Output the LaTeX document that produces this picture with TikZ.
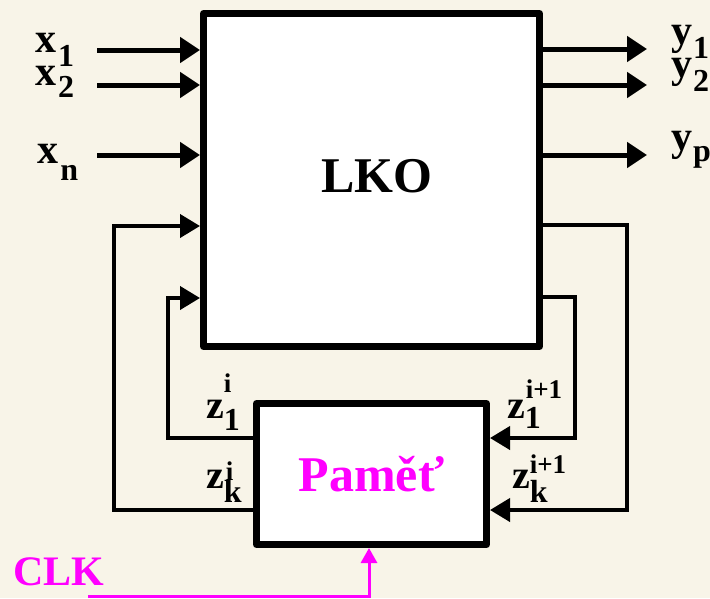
\documentclass[tikz,border=0pt]{standalone}
\usepackage{fontspec}
\setmainfont{Liberation Serif}
\usetikzlibrary{arrows.meta,calc}
\definecolor{bg}{RGB}{248,244,232}
\definecolor{mag}{RGB}{255,0,255}
\newcommand{\fsz}[1]{\fontsize{#1}{#1}\selectfont}
\begin{document}
\begin{tikzpicture}[x=1pt,y=-1pt,
  lab/.style={anchor=base west,inner sep=0pt,outer sep=0pt,font=\bfseries},
  blk/.style={draw=black,fill=white,line width=7pt,line join=round,inner sep=0pt},
  inarr/.style={line width=5pt,-{Triangle[length=20pt,width=25pt]}},
  fb/.style={line width=4pt,line join=miter},
  fbarr/.style={fb,-{Triangle[length=20pt,width=23pt]}},
  clk/.style={draw=mag,line width=3pt,-{Triangle[length=15pt,width=16pt]}}]
\fill[bg] (0,0) rectangle (710,598);
\useasboundingbox (0,0) rectangle (710,598);
% blocks
\node[blk,minimum width=336pt,minimum height=333pt] (lko) at (371.5,180) {};
\node[font=\bfseries\fsz{50},inner sep=0pt] (lkot) at (377,176.5) {LKO};
\node[blk,minimum width=230pt,minimum height=141pt,text=mag,font=\bfseries\fsz{50}] (mem) at (371.5,474) {Paměť};
% inputs
\coordinate (x1s) at (97,50);
\coordinate (x2s) at (97,85);
\coordinate (xns) at (97,155);
\draw[inarr] (x1s) -- (x1s -| lko.west);
\draw[inarr] (x2s) -- (x2s -| lko.west);
\draw[inarr] (xns) -- (xns -| lko.west);
% outputs
\coordinate (y1e) at (647,49);
\coordinate (y2e) at (647,85);
\coordinate (ype) at (647,155);
\draw[inarr] (y1e -| lko.east) -- (y1e);
\draw[inarr] (y2e -| lko.east) -- (y2e);
\draw[inarr] (ype -| lko.east) -- (ype);
% feedback
\draw[fbarr] (mem.west |- 0,510) -- (114,510) -- (114,226) -- (lko.west |- 0,226);
\draw[fbarr] (mem.west |- 0,438) -- (168,438) -- (168,298) -- (lko.west |- 0,298);
\draw[fbarr] (lko.east |- 0,225) -- (627,225) -- (627,510) -- (mem.east |- 0,510);
\draw[fbarr] (lko.east |- 0,297) -- (575,297) -- (575,438) -- (mem.east |- 0,438);
% clock
\coordinate (clks) at (88,596.5);
\draw[clk] (clks) -| (mem.south -| 369,0);
\node[lab,text=mag] (clkt) at (13,585) {\fsz{42}CLK};
% labels
\node[lab] (lx1) at (35,52) {\fsz{42}x\kern2pt\raisebox{-14pt}{\fsz{32}1}};
\node[lab] (lx2) at (35,85) {\fsz{42}x\kern2pt\raisebox{-12pt}{\fsz{32}2}};
\node[lab] (lxn) at (37,163) {\fsz{42}x\kern2.5pt\raisebox{-17pt}{\fsz{32}n}};
\node[lab] (ly1) at (671,44) {\fsz{42}y\kern1pt\raisebox{-14pt}{\fsz{32}1}};
\node[lab] (ly2) at (671,77) {\fsz{42}y\kern1pt\raisebox{-14pt}{\fsz{32}2}};
\node[lab] (lyp) at (671,150) {\fsz{42}y\kern1pt\raisebox{-11pt}{\fsz{32}p}};
\node[lab] (lz1i) at (206,418) {\fsz{40}z\kern0pt\rlap{\kern0pt\raisebox{26pt}{\fsz{27}i}}\raisebox{-12pt}{\fsz{32}1}};
\node[lab] (lzki) at (206,488) {\fsz{40}z\kern0pt\rlap{\kern2pt\raisebox{8pt}{\fsz{27}i}}\raisebox{-14pt}{\fsz{32}k}};
\node[lab] (lz1n) at (507,418) {\fsz{40}z\kern0pt\rlap{\kern1pt\raisebox{20pt}{\fsz{27}i+1}}\raisebox{-10pt}{\fsz{32}1}};
\node[lab] (lzkn) at (512,488) {\fsz{40}z\kern0pt\rlap{\kern0pt\raisebox{15pt}{\fsz{27}i+1}}\raisebox{-14pt}{\fsz{32}k}};
\end{tikzpicture}
\end{document}
